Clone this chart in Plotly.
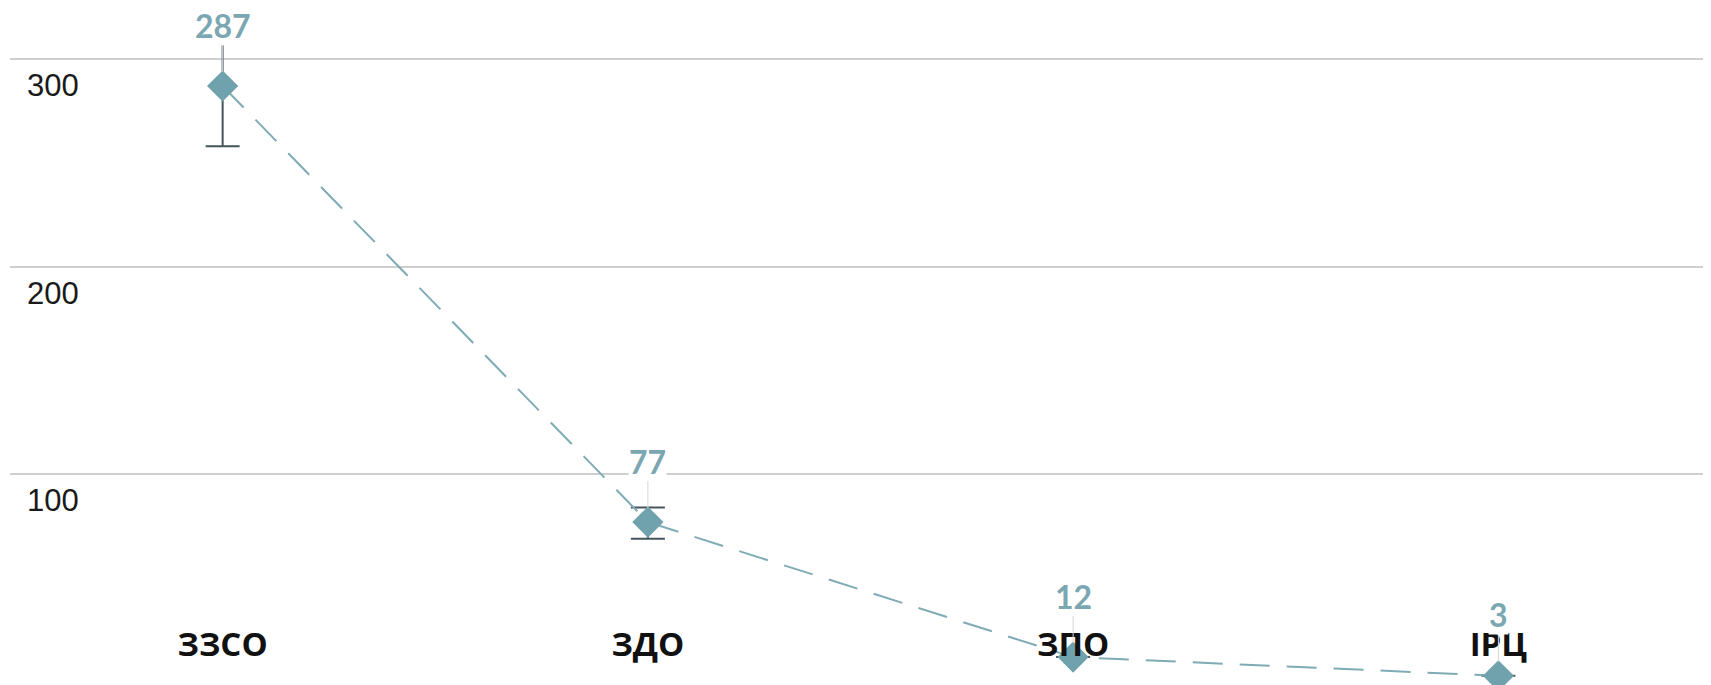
import plotly.graph_objects as go

categories = ["ЗЗСО", "ЗДО", "ЗПО", "ІРЦ"]
values = [287, 77, 12, 3]
err_plus = [22, 7, 0, 0]
err_minus = [29, 8, 0, 0]
value_labels = ["287", "77", "12", "3"]
y_ticks = [100, 200, 300]

line_color = "#7eabb5"
marker_color = "#6fa2ad"
label_color = "#7aa7b1"
err_color = "#44565c"

fig = go.Figure()
fig.add_trace(go.Scatter(
    x=categories, y=values, mode="lines+markers",
    line=dict(color=line_color, width=2, dash="30px,17px"),
    marker=dict(symbol="diamond", size=24, color=marker_color),
    error_y=dict(type="data", symmetric=False, array=err_plus, arrayminus=err_minus,
                 color=err_color, thickness=2, width=17),
    cliponaxis=False, showlegend=False, hoverinfo="skip",
))

for c, v, t in zip(categories, values, value_labels):
    fig.add_annotation(
        x=c, y=v, text=f"<b>{t}</b>", showarrow=True, ax=0, ay=-61,
        arrowhead=0, arrowwidth=1, arrowcolor="#d6d6d6", standoff=14,
        font=dict(family="Lato, Roboto, sans-serif", size=32, color=label_color),
        bgcolor="white", borderpad=0,
    )

# page body has an 8px default margin, so the figure is sized to fill the rest
fig.update_layout(
    width=1703, height=677,
    margin=dict(l=2, r=0, t=0, b=0),
    paper_bgcolor="white", plot_bgcolor="white",
    xaxis=dict(
        type="category", range=[-0.5, 3.5], showgrid=False, zeroline=False,
        showline=False, ticks="", ticklabelposition="inside", ticklabelstandoff=19,
        tickfont=dict(family="Open Sans, Roboto, sans-serif", size=33, color="#111111", weight=700),
    ),
    yaxis=dict(
        range=[-1.44, 324.56], tickvals=y_ticks, ticktext=[str(v) for v in y_ticks],
        showgrid=True, gridcolor="#cfcfcf", gridwidth=2, zeroline=False,
        showline=False, ticks="", ticklabelposition="inside", ticklabelshift=26,
        ticklabelstandoff=14,
        tickfont=dict(family="Liberation Sans, Arial, sans-serif", size=31, color="#1a1a1a"),
    ),
)

fig.write_html("out.html")
